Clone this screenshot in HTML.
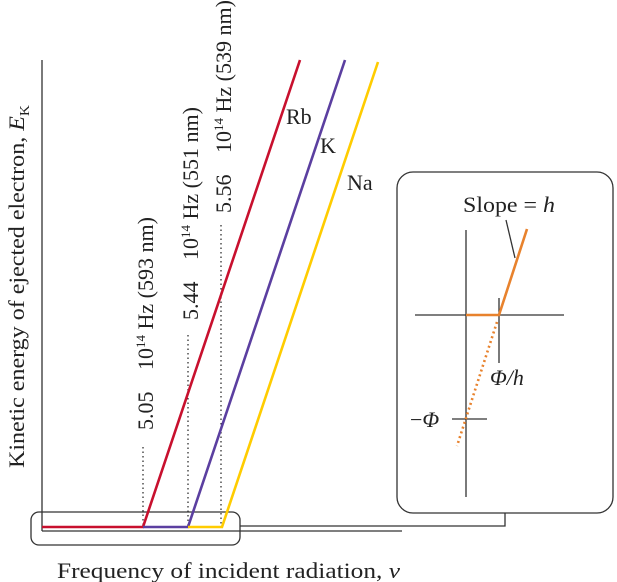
<!DOCTYPE html>
<html><head><style>body{margin:0;background:#fff}svg{display:block}text{font-family:"Liberation Serif",serif;fill:#222}</style></head><body>
<svg width="617" height="582" viewBox="0 0 617 582" xmlns="http://www.w3.org/2000/svg">
<g stroke="#333" stroke-width="1.3" fill="none">
<line x1="42" y1="60" x2="42" y2="531"/>
<line x1="42" y1="531" x2="402" y2="531"/>
<polyline points="240,526 505,526 505,513"/>
<rect x="31" y="512" width="209" height="33" rx="8"/>
<rect x="397" y="172" width="216" height="341" rx="16"/>
<line x1="466" y1="230" x2="466" y2="497"/>
<line x1="415" y1="315" x2="564" y2="315"/>
<line x1="499" y1="298" x2="499" y2="363"/>
<line x1="452" y1="419" x2="487" y2="419"/>
<line x1="506" y1="220" x2="515" y2="258"/>
</g>
<g stroke="#222" stroke-width="1.2" stroke-dasharray="1.5,3">
<line x1="143" y1="447" x2="143" y2="527"/>
<line x1="188" y1="335" x2="188" y2="527"/>
<line x1="221" y1="225" x2="221" y2="527"/>
</g>
<g fill="none" stroke-width="2.6">
<polyline points="42,527 143,527 300,60" stroke="#c8102e"/>
<polyline points="143,527 188,527 345,60" stroke="#5b3fa0"/>
<polyline points="188,527 222,527 378,62" stroke="#ffcc00"/>
<polyline points="466,315 499,315 527,229" stroke="#e8822d"/>
<line x1="497" y1="322" x2="457" y2="446" stroke="#e8822d" stroke-dasharray="2,3"/>
</g>
<g font-size="22">
<text x="286" y="124">Rb</text>
<text x="320" y="153">K</text>
<text x="347" y="190">Na</text>
<text x="463" y="212" textLength="92" lengthAdjust="spacingAndGlyphs">Slope = <tspan font-style="italic">h</tspan></text>
<text x="490" y="385" font-style="italic">Φ/h</text>
<text x="410" y="427">−<tspan font-style="italic">Φ</tspan></text>
<text x="57" y="578" textLength="343" lengthAdjust="spacingAndGlyphs">Frequency of incident radiation, <tspan font-style="italic">ν</tspan></text>
<text transform="translate(24,468) rotate(-90)" textLength="363" lengthAdjust="spacingAndGlyphs">Kinetic energy of ejected electron, <tspan font-style="italic">E</tspan><tspan font-size="14" dy="5">K</tspan></text>
<text transform="translate(153,430) rotate(-90)"><tspan>5.05</tspan><tspan x="60">10</tspan><tspan font-size="13" dy="-8">14</tspan><tspan dy="8"> Hz (593 nm)</tspan></text>
<text transform="translate(198,320) rotate(-90)"><tspan>5.44</tspan><tspan x="60">10</tspan><tspan font-size="13" dy="-8">14</tspan><tspan dy="8"> Hz (551 nm)</tspan></text>
<text transform="translate(231,213) rotate(-90)"><tspan>5.56</tspan><tspan x="60">10</tspan><tspan font-size="13" dy="-8">14</tspan><tspan dy="8"> Hz (539 nm)</tspan></text>
</g>
</svg>
</body></html>
